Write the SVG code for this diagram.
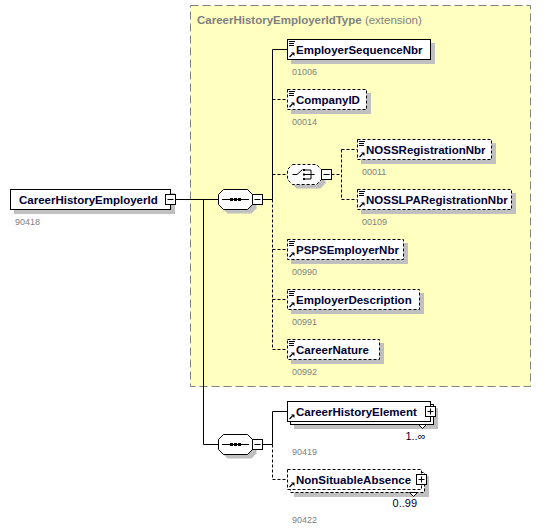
<svg xmlns="http://www.w3.org/2000/svg" xmlns:xlink="http://www.w3.org/1999/xlink" width="548" height="532" viewBox="0 0 548 532">
<style>
  .name{font-family:"Liberation Sans",Arial,sans-serif;font-size:11.5px;font-weight:bold;fill:#000033}
  .code{font-family:"Liberation Sans",Arial,sans-serif;font-size:9px;fill:#808080}
  .occ{font-family:"Liberation Sans",Arial,sans-serif;font-size:11px;fill:#000033}
  .title{font-family:"Liberation Sans",Arial,sans-serif;font-size:11.5px;fill:#808080}
  .box{fill:#ffffff;stroke:#000000;stroke-width:1}
  .opt{stroke-dasharray:3,2}
  .shadow{fill:#c0c0c0;stroke:none}
  .ln{fill:none;stroke:#000000;stroke-width:1}
  .dash{stroke-dasharray:3,2}
  .ext{fill:#ffffc0;stroke:#808080;stroke-width:1;stroke-dasharray:8,4}
</style>
<defs>
  <path id="oct" d="M5 0H29L34 5V15L29 20H5L0 15V5Z"/>
  <g id="doc" fill="none" stroke="#000" stroke-width="1">
    <path d="M1.5 2H7.5M1.5 4H6.5M1.5 6H6.5"/>
  </g>
  <g id="ref">
    <path d="M2 17.5L5 14.5" fill="none" stroke="#000" stroke-width="1.2"/>
    <polygon points="3.5,13 7,13 7,16.5" fill="#000"/>
  </g>
  <g id="minus">
    <rect x="0" y="0" width="10" height="10" fill="#fff" stroke="#000" stroke-width="1"/>
    <path d="M2 5H8" stroke="#000" stroke-width="1"/>
  </g>
  <g id="plus">
    <rect x="0" y="0" width="10" height="10" fill="#fff" stroke="#000" stroke-width="1"/>
    <path d="M2 5H8M5 2V8" stroke="#000" stroke-width="1"/>
  </g>
  <g id="seqicon">
    <path d="M3.5 10H30.5" stroke="#000" stroke-width="1"/>
    <rect x="11.5" y="8.5" width="3" height="3" fill="#000"/>
    <rect x="15.5" y="8.5" width="3" height="3" fill="#000"/>
    <rect x="19.5" y="8.5" width="3" height="3" fill="#000"/>
  </g>
  <g id="choiceicon" fill="none" stroke="#000" stroke-width="1">
    <path d="M5 10H9.5L15 5"/>
    <rect x="15.5" y="4.5" width="2" height="2" fill="#000" stroke="none"/>
    <rect x="15.5" y="9" width="2" height="2" fill="#000" stroke="none"/>
    <rect x="15.5" y="13.5" width="2" height="2" fill="#000" stroke="none"/>
    <path d="M17.5 5.5H23.5V14.5H17.5M17.5 10H27"/>
  </g>
</defs>

<g id="extension">
  <rect class="ext" x="190.5" y="5.5" width="340" height="381"/>
  <text class="title" x="197" y="24"><tspan font-weight="bold">CareerHistoryEmployerIdType</tspan> (extension)</text>
</g>

<g id="connectors" class="ln">
  <path d="M175.5 199.5H218.5"/>
  <path d="M203.5 199.5V444.5H218.5"/>
  <path d="M262.5 199.5H272.5"/>
  <path d="M272.5 49.5V199.5"/>
  <path d="M272.5 49.5H287.5"/>
  <path class="dash" d="M272.5 199.5V349.5"/>
  <path class="dash" d="M272.5 99.5H287.5M272.5 174.5H287.5M272.5 249.5H287.5M272.5 299.5H287.5M272.5 349.5H287.5"/>
  <path class="dash" d="M331.5 174.5H341.5M341.5 149.5V199.5M341.5 149.5H357.5M341.5 199.5H357.5"/>
  <path d="M262.5 444.5H272.5M272.5 411.5V444.5M272.5 411.5H287.5"/>
  <path class="dash" d="M272.5 444.5V479.5H287.5"/>
</g>

<g id="CareerHistoryEmployerId">
  <rect class="shadow" x="14" y="193" width="161" height="21"/>
  <rect class="box" x="10.5" y="189.5" width="160" height="20"/>
  <use xlink:href="#minus" x="165.5" y="194.5"/>
  <text class="name" x="19" y="204">CareerHistoryEmployerId</text>
  <text class="code" x="15" y="225">90418</text>
</g>

<g id="sequence1">
  <use xlink:href="#oct" class="shadow" x="222.5" y="193.5"/>
  <use xlink:href="#oct" class="box" x="218.5" y="189.5"/>
  <use xlink:href="#seqicon" x="218.5" y="189.5"/>
  <use xlink:href="#minus" x="252.5" y="194.5"/>
</g>

<g id="EmployerSequenceNbr">
  <rect class="shadow" x="291" y="43" width="144" height="21"/>
  <rect class="box" x="287.5" y="39.5" width="143" height="20"/>
  <use xlink:href="#doc" x="287.5" y="39.5"/>
  <use xlink:href="#ref" x="287.5" y="39.5"/>
  <text class="name" x="296" y="54">EmployerSequenceNbr</text>
  <text class="code" x="292" y="75">01006</text>
</g>

<g id="CompanyID">
  <rect class="shadow" x="291" y="93" width="80" height="21"/>
  <rect class="box opt" x="287.5" y="89.5" width="79" height="20"/>
  <use xlink:href="#doc" x="287.5" y="89.5"/>
  <use xlink:href="#ref" x="287.5" y="89.5"/>
  <text class="name" x="296" y="104">CompanyID</text>
  <text class="code" x="292" y="125">00014</text>
</g>

<g id="choice">
  <use xlink:href="#oct" class="shadow" x="291.5" y="168.5"/>
  <use xlink:href="#oct" class="box opt" x="287.5" y="164.5"/>
  <use xlink:href="#choiceicon" x="287.5" y="164.5"/>
  <use xlink:href="#minus" x="321.5" y="169.5"/>
</g>

<g id="NOSSRegistrationNbr">
  <rect class="shadow" x="361" y="143" width="135" height="21"/>
  <rect class="box opt" x="357.5" y="139.5" width="134" height="20"/>
  <use xlink:href="#doc" x="357.5" y="139.5"/>
  <use xlink:href="#ref" x="357.5" y="139.5"/>
  <text class="name" x="366" y="154">NOSSRegistrationNbr</text>
  <text class="code" x="362" y="175">00011</text>
</g>

<g id="NOSSLPARegistrationNbr">
  <rect class="shadow" x="361" y="193" width="155" height="21"/>
  <rect class="box opt" x="357.5" y="189.5" width="154" height="20"/>
  <use xlink:href="#doc" x="357.5" y="189.5"/>
  <use xlink:href="#ref" x="357.5" y="189.5"/>
  <text class="name" x="366" y="204">NOSSLPARegistrationNbr</text>
  <text class="code" x="362" y="225">00109</text>
</g>

<g id="PSPSEmployerNbr">
  <rect class="shadow" x="291" y="243" width="117" height="21"/>
  <rect class="box opt" x="287.5" y="239.5" width="116" height="20"/>
  <use xlink:href="#doc" x="287.5" y="239.5"/>
  <use xlink:href="#ref" x="287.5" y="239.5"/>
  <text class="name" x="296" y="254">PSPSEmployerNbr</text>
  <text class="code" x="292" y="275">00990</text>
</g>

<g id="EmployerDescription">
  <rect class="shadow" x="291" y="293" width="133" height="21"/>
  <rect class="box opt" x="287.5" y="289.5" width="132" height="20"/>
  <use xlink:href="#doc" x="287.5" y="289.5"/>
  <use xlink:href="#ref" x="287.5" y="289.5"/>
  <text class="name" x="296" y="304">EmployerDescription</text>
  <text class="code" x="292" y="325">00991</text>
</g>

<g id="CareerNature">
  <rect class="shadow" x="291" y="343" width="93" height="21"/>
  <rect class="box opt" x="287.5" y="339.5" width="92" height="20"/>
  <use xlink:href="#doc" x="287.5" y="339.5"/>
  <use xlink:href="#ref" x="287.5" y="339.5"/>
  <text class="name" x="296" y="354">CareerNature</text>
  <text class="code" x="292" y="375">00992</text>
</g>

<g id="sequence2">
  <use xlink:href="#oct" class="shadow" x="222.5" y="438.5"/>
  <use xlink:href="#oct" class="box" x="218.5" y="434.5"/>
  <use xlink:href="#seqicon" x="218.5" y="434.5"/>
  <use xlink:href="#minus" x="252.5" y="439.5"/>
</g>

<g id="CareerHistoryElement">
  <rect class="shadow" x="294" y="408" width="144" height="21"/>
  <rect class="box" x="290.5" y="404.5" width="143" height="20"/>
  <rect class="box" x="287.5" y="401.5" width="143" height="20"/>
  <use xlink:href="#ref" x="287.5" y="401.5"/>
  <text class="name" x="296" y="416">CareerHistoryElement</text>
  <use xlink:href="#plus" x="425.5" y="406.5"/>
  <polygon points="418.5,424.5 422.5,428.5 426.5,424.5" fill="#fff" stroke="#000" stroke-width="1"/>
  <text class="occ" x="425.5" y="440" text-anchor="end">1..∞</text>
  <text class="code" x="292" y="455">90419</text>
</g>

<g id="NonSituableAbsence">
  <rect class="shadow" x="294" y="476" width="135" height="21"/>
  <rect class="box opt" x="290.5" y="472.5" width="134" height="20"/>
  <rect class="box opt" x="287.5" y="469.5" width="134" height="20"/>
  <use xlink:href="#ref" x="287.5" y="469.5"/>
  <text class="name" x="296" y="484">NonSituableAbsence</text>
  <use xlink:href="#plus" x="416.5" y="474.5"/>
  <polygon points="409.5,492.5 413.5,496.5 417.5,492.5" fill="#fff" stroke="#000" stroke-width="1"/>
  <text class="occ" x="417" y="507" text-anchor="end">0..99</text>
  <text class="code" x="292" y="523">90422</text>
</g>
</svg>
